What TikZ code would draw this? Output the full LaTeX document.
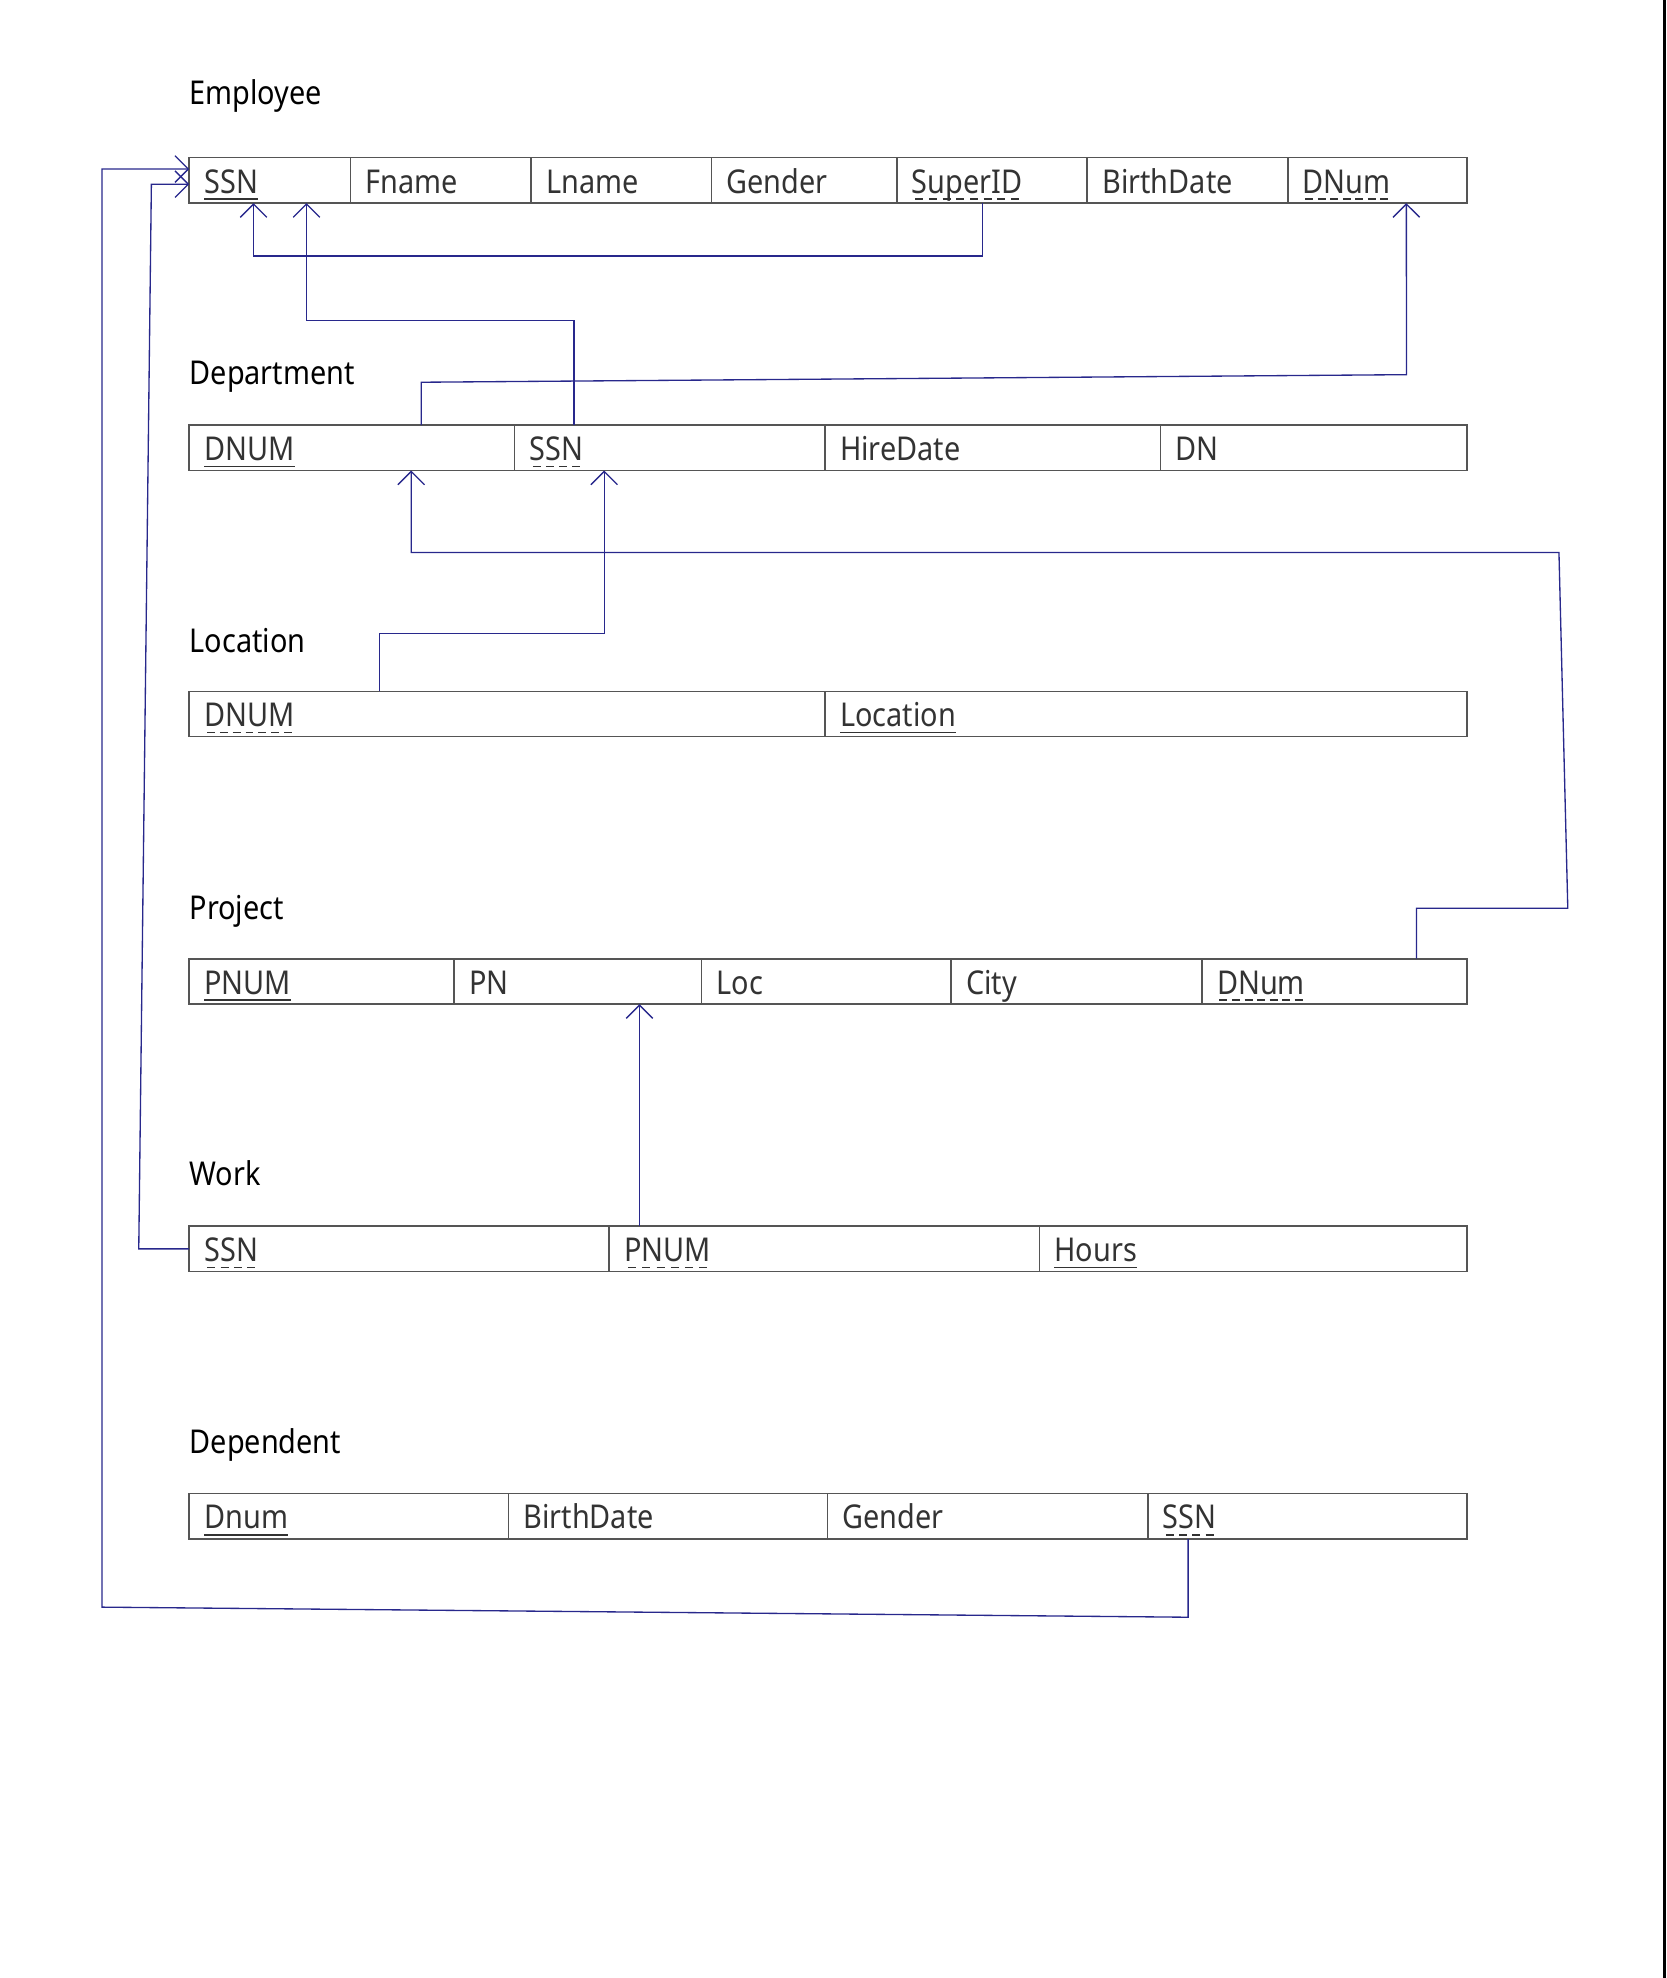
\documentclass[tikz,border=0pt]{standalone}
\usepackage{fontspec}
\setmainfont{Noto Sans}[FakeStretch=0.88]
\usetikzlibrary{positioning,arrows.meta}

\newcommand\pk[1]{\setbox0\hbox{#1}\leavevmode\rlap{\vrule width\wd0 height -2.3pt depth 3pt}\box0}
\newcommand\fk[1]{\setbox0\hbox{#1}\leavevmode\rlap{\hbox to\wd0{\xleaders\hbox to 5.6pt{\hss\vrule width 3.6pt height -2.3pt depth 3pt\hss}\hfill}}\box0}

\definecolor{linkblue}{RGB}{40,40,140}
\definecolor{cellgray}{RGB}{85,85,85}

\begin{document}
\begin{tikzpicture}[x=0.02cm,y=-0.02cm,font=\fontsize{14.8}{17}\selectfont,
  title/.style={anchor=base west,inner sep=0pt},
  cell/.style={draw=cellgray,line width=0.7pt,outer sep=0pt,inner xsep=0.24cm,inner ysep=0pt,
    minimum height=0.72cm,text height=0.46cm,text depth=0.06cm,align=left,anchor=west,text=black!80},
  link/.style={draw=linkblue,line width=0.6pt,-{Straight Barb[length=6pt,width=12pt]}}]

\useasboundingbox (0,0) rectangle (1321,1568);
\fill (1318.6,0) rectangle (1321,1568);

% Employee
\node[title] (t-emp) at (150,83) {Employee};
\node[cell,text width=2.08cm] (emp-ssn) at (150,143) {\pk{SSN}};
\node[cell,text width=2.38cm,right=0pt of emp-ssn] (emp-fname) {Fname};
\node[cell,text width=2.38cm,right=0pt of emp-fname] (emp-lname) {Lname};
\node[cell,text width=2.46cm,right=0pt of emp-lname] (emp-gender) {Gender};
\node[cell,text width=2.54cm,right=0pt of emp-gender] (emp-super) {\fk{SuperID}};
\node[cell,text width=2.70cm,right=0pt of emp-super] (emp-birth) {BirthDate};
\node[cell,text width=2.36cm,right=0pt of emp-birth] (emp-dnum) {\fk{DNum}};

% Department
\node[title] (t-dep) at (150,305) {Department};
\node[cell,text width=4.68cm] (dep-dnum) at (150,355) {\pk{DNUM}};
\node[cell,text width=4.44cm,right=0pt of dep-dnum] (dep-ssn) {\fk{SSN}};
\node[cell,text width=4.84cm,right=0pt of dep-ssn] (dep-hire) {HireDate};
\node[cell,text width=4.38cm,right=0pt of dep-hire] (dep-dn) {DN};

% Location
\node[title] (t-loc) at (150,517) {Location};
\node[cell,text width=9.60cm] (loc-dnum) at (150,566) {\fk{DNUM}};
\node[cell,text width=9.70cm,right=0pt of loc-dnum] (loc-loc) {\pk{Location}};

% Project
\node[title] (t-prj) at (150,729) {Project};
\node[cell,text width=3.72cm] (prj-pnum) at (150,778) {\pk{PNUM}};
\node[cell,text width=3.44cm,right=0pt of prj-pnum] (prj-pn) {PN};
\node[cell,text width=3.48cm,right=0pt of prj-pn] (prj-loc) {Loc};
\node[cell,text width=3.50cm,right=0pt of prj-loc] (prj-city) {City};
\node[cell,text width=3.72cm,right=0pt of prj-city] (prj-dnum) {\fk{DNum}};

% Work
\node[title] (t-wrk) at (150,940) {Work};
\node[cell,text width=6.18cm] (wrk-ssn) at (150,990) {\fk{SSN}};
\node[cell,text width=6.34cm,right=0pt of wrk-ssn] (wrk-pnum) {\fk{PNUM}};
\node[cell,text width=6.30cm,right=0pt of wrk-pnum] (wrk-hours) {\pk{Hours}};

% Dependent
\node[title] (t-dpd) at (150,1152) {Dependent};
\node[cell,text width=4.58cm] (dpd-dnum) at (150,1202) {\pk{Dnum}};
\node[cell,text width=4.58cm,right=0pt of dpd-dnum] (dpd-birth) {BirthDate};
\node[cell,text width=4.60cm,right=0pt of dpd-birth] (dpd-gender) {Gender};
\node[cell,text width=4.58cm,right=0pt of dpd-gender] (dpd-ssn) {\fk{SSN}};

% references
\draw[link] ([xshift=-0.15cm]emp-super.south) -- ++(0,42) -| ([xshift=-0.26cm]emp-ssn.south);
\draw[link] ([xshift=-1.52cm]dep-ssn.north) -- ++(0,-83) -| ([xshift=0.58cm]emp-ssn.south);
\draw[link] ([xshift=1.1cm]dep-dnum.north) -- ++(0,-34) -- ++(781,-6) -- ([xshift=0.46cm]emp-dnum.south);
\draw[link] ([xshift=-2.02cm]loc-dnum.north) -- ++(0,-46) -| ([xshift=-1.04cm]dep-ssn.south);
\draw[link] ([xshift=1.3cm]prj-dnum.north) -- ++(0,-40) -- ++(120,0) -- ++(-7,-282) -| ([xshift=0.94cm]dep-dnum.south);
\draw[link] ([xshift=-2.93cm]wrk-pnum.north) coordinate (w) -- (w |- prj-pn.south);
\draw[link] (wrk-ssn.west) -- ++(-40,0) -- ++(10,-844) -- ([yshift=-0.06cm]emp-ssn.west);
\draw[link] ([xshift=-1.89cm]dpd-ssn.south) -- ++(0,62) -- ++(-861,-8) |- ([yshift=0.18cm]emp-ssn.west);

\end{tikzpicture}
\end{document}
